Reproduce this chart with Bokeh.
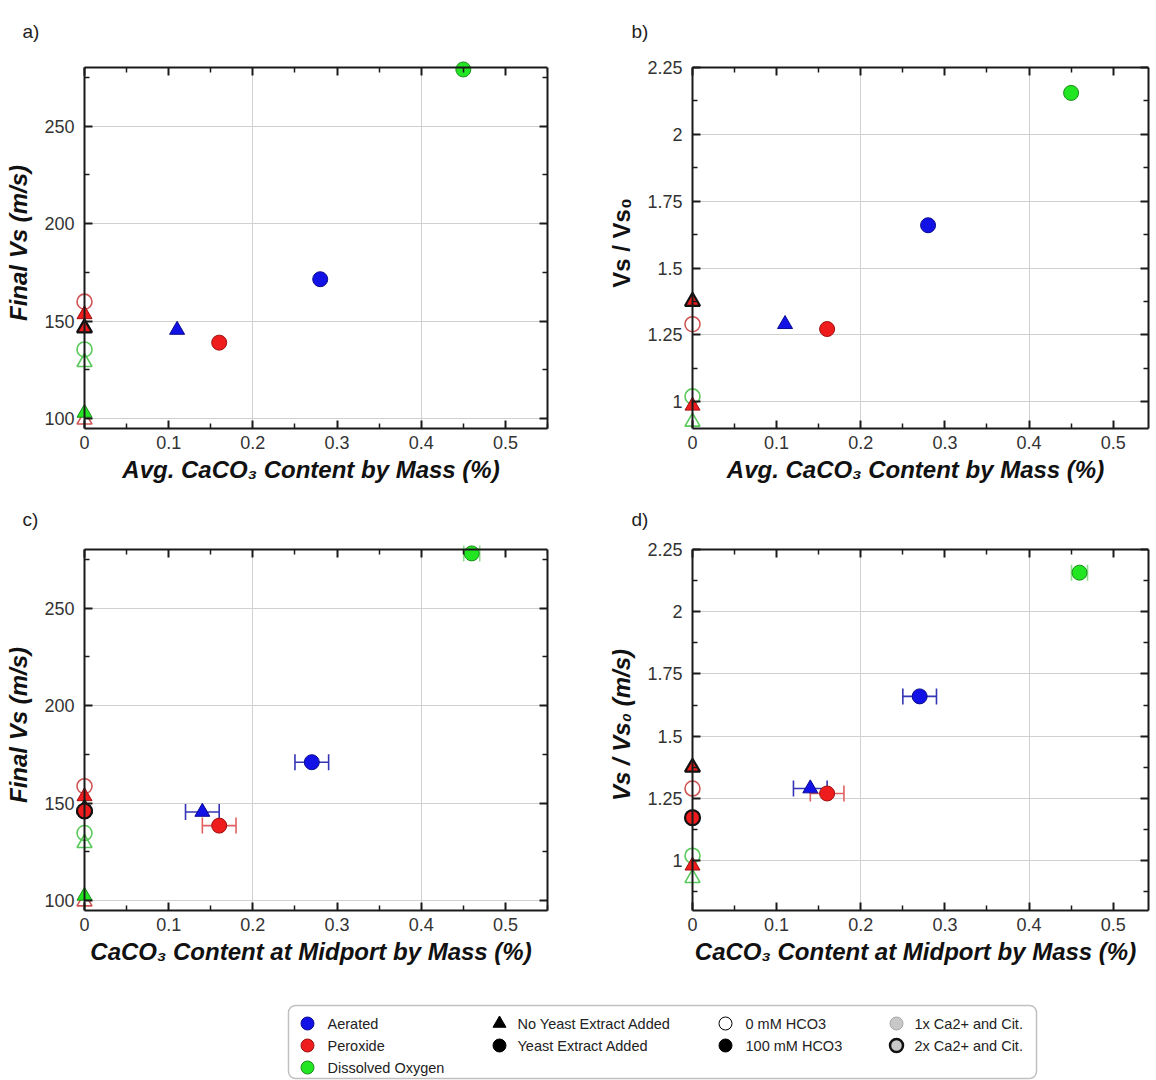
import math
from bokeh.plotting import figure
from bokeh.models import (Range1d, LinearAxis, FixedTicker, NumeralTickFormatter,
                          ColumnDataSource, BoxAnnotation, Whisker, TeeHead)
from bokeh.layouts import column, row
from bokeh.embed import file_html
from bokeh.resources import INLINE
from bokeh.core.properties import value

NaN = float("nan")

# ---------------- data ----------------
treatment = ["Dissolved Oxygen", "Aerated", "Aerated", "Peroxide", "Peroxide", "Peroxide",
             "Peroxide", "Dissolved Oxygen", "Dissolved Oxygen", "Dissolved Oxygen",
             "Peroxide", "Peroxide"]
yeast_added = [True, True, False, True, True, False, False, True, False, False, False, True]
hco3_mM = [100, 100, 100, 100, 0, 100, 100, 0, 0, 100, 0, 100]
ca_cit = [1, 1, 1, 1, 1, 1, 2, 1, 1, 1, 1, 2]

avg_caco3 = [0.45, 0.28, 0.11, 0.16, 0, 0, 0, 0, 0, 0, 0, NaN]
mid_caco3 = [0.46, 0.27, 0.14, 0.16, 0, 0, 0, 0, 0, 0, 0, 0]
mid_caco3_err = [0.0095, 0.02, 0.02, 0.02, 0, 0, 0, 0, 0, 0, 0, 0]

final_vs_avg = [279, 171.5, 145.5, 139, 160, 153.5, 146.5, 135.5, 129, 103, 99.5, NaN]
final_vs_mid = [278, 171, 145.5, 138.5, 158.7, 153.5, 147, 134.7, 129.5, 102.5, 99.6, 146]
vs_ratio_avg = [2.155, 1.66, 1.29, 1.272, 1.29, 0.985, 1.375, 1.02, 0.925, NaN, NaN, NaN]
vs_ratio_mid = [2.157, 1.66, 1.29, 1.27, 1.29, 0.98, 1.375, 1.02, 0.93, NaN, NaN, 1.173]

x_ticks = [0, 0.1, 0.2, 0.3, 0.4, 0.5]
x_tick_labels = ["0", "0.1", "0.2", "0.3", "0.4", "0.5"]
x_minor = [0.05, 0.15, 0.25, 0.35, 0.45, 0.55]
x_grid = [0.2, 0.4]

vs_ticks = [100, 150, 200, 250]
vs_tick_labels = ["100", "150", "200", "250"]
vs_minor = [125, 175, 225, 275]

ratio_ticks = [1, 1.25, 1.5, 1.75, 2, 2.25]
ratio_tick_labels = ["1", "1.25", "1.5", "1.75", "2", "2.25"]
ratio_minor = [0.875, 1.125, 1.375, 1.625, 1.875, 2.125]
ratio_grid = [1, 1.25, 1.5, 1.75, 2]

legend_treatments = ["Aerated", "Peroxide", "Dissolved Oxygen"]
legend_yeast = ["No Yeast Extract Added", "Yeast Extract Added"]
legend_hco3 = ["0 mM HCO3", "100 mM HCO3"]
legend_ca = ["1x Ca2+ and Cit.", "2x Ca2+ and Cit."]

# ---------------- styles ----------------
FONT = "Liberation Sans"
FILL = {"Aerated": "#1212e6", "Peroxide": "#ee1c1c", "Dissolved Oxygen": "#22e622"}
EDGE = {"Aerated": "#0a0a90", "Peroxide": "#a01010", "Dissolved Oxygen": "#1c8c1c"}
OPEN = {"Aerated": "#6060d0", "Peroxide": "#d05555", "Dissolved Oxygen": "#5cc95c"}
ERRC = {"Aerated": "#3434b4", "Peroxide": "#e06060", "Dissolved Oxygen": "#90dd90"}
PAD = 10
AX = "#1a1a1a"


def point_columns(xs, ys):
    order = []
    for i in range(len(treatment)):
        if math.isnan(xs[i]) or math.isnan(ys[i]):
            continue
        filled = hco3_mM[i] == 100
        order.append(((filled, yeast_added[i], ca_cit[i]), i))
    order.sort(key=lambda r: r[0])
    cols = dict(x=[], y=[], marker=[], size=[], fill_color=[], fill_alpha=[],
                line_color=[], line_width=[])
    for _, i in order:
        t = treatment[i]
        circ = yeast_added[i]
        filled = hco3_mM[i] == 100
        cols["x"].append(xs[i])
        cols["y"].append(ys[i])
        cols["marker"].append("circle" if circ else "triangle")
        cols["size"].append(15)
        if filled:
            cols["fill_color"].append(FILL[t])
            cols["fill_alpha"].append(1.0)
            if ca_cit[i] == 2:
                cols["line_color"].append("#111111")
                cols["line_width"].append(2.2)
            else:
                cols["line_color"].append(EDGE[t])
                cols["line_width"].append(1.0)
        else:
            cols["fill_color"].append("white")
            cols["fill_alpha"].append(0.0)
            cols["line_color"].append(OPEN[t])
            cols["line_width"].append(1.6)
    return cols


def tick_axis(ax, ticks, minor, bounds, line=True):
    """Axis that draws only its line and inward ticks (no labels)."""
    ax.ticker = FixedTicker(ticks=ticks, minor_ticks=minor)
    ax.bounds = bounds
    ax.axis_line_color = AX if line else None
    ax.axis_line_width = 2
    ax.major_tick_in = 8
    ax.major_tick_out = 0
    ax.minor_tick_in = 5
    ax.minor_tick_out = 0
    ax.major_tick_line_color = AX
    ax.major_tick_line_width = 2
    ax.minor_tick_line_color = AX
    ax.minor_tick_line_width = 1.5
    ax.major_label_text_font_size = "0px"
    ax.major_label_text_color = None
    ax.major_label_standoff = 0


def label_axis(ax, ticks, labels, standoff):
    ax.ticker = FixedTicker(ticks=ticks, minor_ticks=[])
    ax.formatter = NumeralTickFormatter(format="0.[00]")
    ax.major_label_overrides = {t: s for t, s in zip(ticks, labels)}
    ax.major_label_text_font = FONT
    ax.major_label_text_font_size = "18px"
    ax.major_label_text_color = "#333333"
    ax.major_label_standoff = standoff
    ax.axis_label_text_font = FONT
    ax.axis_label_text_font_size = "24px"
    ax.axis_label_text_color = "#111111"


def make_panel(xs, ys, x_end, y_start, y_top, yt, yl, ym, yg, xlabel, ylabel, ylabel_style,
               width, height, box, tag, tag_x, tag_standoff, xerr=None):
    bl, br, bt, bb = box
    sx = x_end / (br - bl)
    sy = (y_top - y_start) / (bb - bt)
    x_start = -PAD * sx
    y_end = y_top + PAD * sy
    p = figure(width=width, height=height,
               x_range=Range1d(x_start, x_end), y_range=Range1d(y_start, y_end),
               output_backend="svg", toolbar_location=None,
               min_border_left=bl - PAD, min_border_right=width - br,
               min_border_top=bt - PAD, min_border_bottom=height - bb)
    p.title.text = tag
    p.title.align = "left"
    p.title.vertical_align = "top"
    p.title.offset = tag_x - (bl - PAD)
    p.title.text_font = FONT
    p.title.text_font_size = "19px"
    p.title.text_font_style = "normal"
    p.title.text_color = "#222222"
    if "standoff" in p.title.properties():
        p.title.standoff = tag_standoff
    p.outline_line_color = None
    p.background_fill_color = "white"
    p.border_fill_color = "white"
    p.xgrid.ticker = FixedTicker(ticks=x_grid)
    p.ygrid.ticker = FixedTicker(ticks=yg)
    p.grid.grid_line_color = "#d0d0d0"
    p.grid.grid_line_width = 1

    # white masks over the padding strips (outside the plotted box)
    p.add_layout(BoxAnnotation(right=0, fill_color="white", fill_alpha=1.0,
                               line_color=None, level="underlay"))
    p.add_layout(BoxAnnotation(bottom=y_top, fill_color="white", fill_alpha=1.0,
                               line_color=None, level="underlay"))

    # bottom axis: line, ticks and labels at the frame bottom
    xa = p.xaxis[0]
    tick_axis(xa, x_ticks, x_minor, (0, x_end))
    label_axis(xa, x_ticks, x_tick_labels, 7)
    xa.ticker = FixedTicker(ticks=x_ticks, minor_ticks=x_minor)
    xa.axis_label = xlabel
    xa.axis_label_text_font_style = "bold italic"
    xa.axis_label_standoff = 4

    # left axis at the frame edge: labels only
    ya = p.yaxis[0]
    label_axis(ya, yt, yl, 0)
    ya.axis_line_color = None
    ya.major_tick_in = 0
    ya.major_tick_out = 0
    ya.minor_tick_in = 0
    ya.minor_tick_out = 0
    ya.axis_label = ylabel
    ya.axis_label_text_font_style = ylabel_style
    ya.axis_label_standoff = 9

    # spine at x = 0 with inward ticks
    left = LinearAxis()
    tick_axis(left, yt, ym, (y_start, y_top))
    left.fixed_location = 0
    p.add_layout(left, "left")

    top = LinearAxis()
    tick_axis(top, x_ticks, x_minor, (0, x_end))
    top.fixed_location = y_top
    p.add_layout(top, "above")

    right = LinearAxis()
    tick_axis(right, yt, ym, (y_start, y_top))
    p.add_layout(right, "right")

    if xerr is not None:
        for t in ["Aerated", "Peroxide", "Dissolved Oxygen"]:
            idx = [i for i in range(len(treatment))
                   if treatment[i] == t and xerr[i] > 0 and not math.isnan(ys[i])]
            if not idx:
                continue
            src = ColumnDataSource(dict(base=[ys[i] for i in idx],
                                        lower=[xs[i] - xerr[i] for i in idx],
                                        upper=[xs[i] + xerr[i] for i in idx]))
            w = Whisker(source=src, base="base", lower="lower", upper="upper",
                        dimension="width", line_color=ERRC[t], line_width=1.6,
                        upper_head=TeeHead(size=16, line_color=ERRC[t], line_width=1.6),
                        lower_head=TeeHead(size=16, line_color=ERRC[t], line_width=1.6))
            p.add_layout(w)

    src = ColumnDataSource(point_columns(xs, ys))
    p.scatter(x="x", y="y", marker="marker", size="size", fill_color="fill_color",
              fill_alpha="fill_alpha", line_color="line_color", line_width="line_width",
              source=src)
    return p


XL_AVG = "Avg. CaCO\u2083 Content by Mass (%)"
XL_MID = "CaCO\u2083 Content at Midport by Mass (%)"

pa = make_panel(avg_caco3, final_vs_avg, 0.55, 95, 280, vs_ticks, vs_tick_labels, vs_minor,
                vs_ticks, XL_AVG, "Final Vs (m/s)", "bold italic",
                600, 500, (84, 547, 67, 428), "a)", 22, 28)
pb = make_panel(avg_caco3, vs_ratio_avg, 0.542, 0.9, 2.25, ratio_ticks, ratio_tick_labels,
                ratio_minor, ratio_grid, XL_AVG, "Vs / Vs\u2080", "bold",
                556, 500, (92, 548, 67, 428), "b)", 31, 28)
pc = make_panel(mid_caco3, final_vs_mid, 0.55, 95, 280, vs_ticks, vs_tick_labels, vs_minor,
                vs_ticks, XL_MID, "Final Vs (m/s)", "bold italic",
                600, 500, (84, 547, 49, 410), "c)", 22, 16, xerr=mid_caco3_err)
pd = make_panel(mid_caco3, vs_ratio_mid, 0.542, 0.8, 2.25, ratio_ticks, ratio_tick_labels,
                ratio_minor, ratio_grid, XL_MID, "Vs / Vs\u2080 (m/s)", "bold italic",
                556, 500, (92, 548, 49, 410), "d)", 31, 16, xerr=mid_caco3_err)

# ---------------- legend ----------------
LH = 80
leg = figure(width=1156, height=LH, x_range=Range1d(0, 1156), y_range=Range1d(0, LH),
             x_axis_type=None, y_axis_type=None, output_backend="svg",
             toolbar_location=None, min_border=0)
leg.title.visible = False
leg.outline_line_color = None
leg.grid.visible = False
leg.add_layout(BoxAnnotation(left=288, right=1036, top=LH - 5, bottom=LH - 78,
                             fill_alpha=0, line_color="#333333", line_width=1.5,
                             border_radius=7))
rows_y = [LH - 23, LH - 45, LH - 67]

leg.scatter(x=[307] * 3, y=rows_y, marker="circle", size=13,
            fill_color=[FILL[t] for t in legend_treatments],
            line_color=[EDGE[t] for t in legend_treatments], line_width=1)
leg.scatter(x=[499, 499], y=rows_y[:2], marker=["triangle", "circle"], size=13,
            fill_color="black", line_color="black")
leg.scatter(x=[725, 725], y=rows_y[:2], marker="circle", size=13,
            fill_color=["white", "black"], line_color="black", line_width=1)
leg.scatter(x=[896, 896], y=rows_y[:2], marker="circle", size=13,
            fill_color=["#c8c8c8", "#c8c8c8"], line_color=["#a8a8a8", "#111111"],
            line_width=[1, 2.5])
text_kw = dict(text_font=value(FONT), text_font_size="14.5px", text_baseline="middle",
               text_align="left", text_color="#222222")
leg.text(x=[327] * 3, y=rows_y, text=legend_treatments, **text_kw)
leg.text(x=[517] * 2, y=rows_y[:2], text=legend_yeast, **text_kw)
leg.text(x=[745] * 2, y=rows_y[:2], text=legend_hco3, **text_kw)
leg.text(x=[914] * 2, y=rows_y[:2], text=legend_ca, **text_kw)

layout = column(row(pa, pb), row(pc, pd), leg)
open("out.html", "w").write(file_html(layout, INLINE))
